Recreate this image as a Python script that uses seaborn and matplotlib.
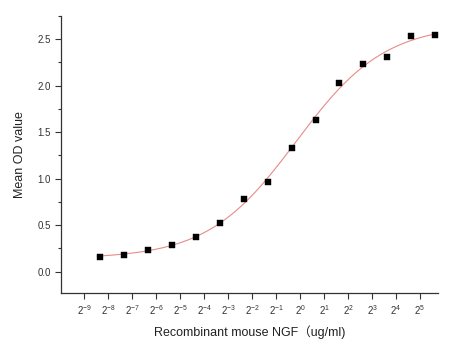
import numpy as np
import pandas as pd
import matplotlib
matplotlib.use("Agg")
import matplotlib.pyplot as plt
import seaborn as sns
from matplotlib.ticker import FixedLocator, MultipleLocator, NullLocator

# ---- data ----
concentration = [50 / 2 ** k for k in range(14, -1, -1)]  # ug/ml, two-fold dilutions
mean_od = [0.16, 0.18, 0.23, 0.28, 0.37, 0.52, 0.78, 0.96, 1.33, 1.63,
           2.03, 2.23, 2.31, 2.53, 2.54]
xtick_exponents = list(range(-9, 6))
xtick_labels = [r"$2^{%d}$" % e for e in xtick_exponents]
y_ticks = [0.0, 0.5, 1.0, 1.5, 2.0, 2.5]

# ---- 4-parameter logistic fit (Gauss-Newton with damping) ----
x = np.array(concentration)
y = np.array(mean_od)


def model(p, xx):
    a, d, c, b = p
    return d + (a - d) / (1 + (xx / c) ** b)


p = np.array([0.12, 2.65, 1.0, 1.0])
lam = 1e-3
for _ in range(500):
    r = y - model(p, x)
    J = np.zeros((len(x), 4))
    for i in range(4):
        dp = np.zeros(4)
        dp[i] = 1e-6 * max(1.0, abs(p[i]))
        J[:, i] = (model(p + dp, x) - model(p - dp, x)) / (2 * dp[i])
    A = J.T @ J
    step = np.linalg.solve(A + lam * np.diag(np.diag(A)), J.T @ r)
    pn = p + step
    if pn[2] > 0 and np.sum((y - model(pn, x)) ** 2) < np.sum(r ** 2):
        p = pn
        lam *= 0.5
    else:
        lam *= 4

xs = np.logspace(np.log2(x.min()) - 0.1, np.log2(x.max()), 300, base=2)
curve = pd.DataFrame({"conc": xs, "od": model(p, xs)})
pts = pd.DataFrame({"conc": x, "od": y})

# ---- plot ----
sns.set_style("ticks")
plt.rcParams["font.family"] = ["Liberation Sans", "Noto Sans CJK SC", "DejaVu Sans"]
plt.rcParams["mathtext.fontset"] = "custom"
plt.rcParams["mathtext.rm"] = "Liberation Sans"
plt.rcParams["mathtext.it"] = "Liberation Sans"

fig = plt.figure(figsize=(4.63, 3.45), dpi=100)
ax = fig.add_axes([0.132, 0.151, 0.814, 0.803])

sns.lineplot(data=curve, x="conc", y="od", ax=ax, color="#e88a8a", linewidth=0.8)
sns.scatterplot(data=pts, x="conc", y="od", ax=ax, marker="s", color="black",
                s=18, edgecolor="black", linewidth=0.3, zorder=3)

ax.set_xscale("log", base=2)
ax.set_xlim(2 ** -9.96, 2 ** 5.75)
ax.set_ylim(-0.23, 2.75)
ax.xaxis.set_major_locator(FixedLocator([2.0 ** e for e in xtick_exponents]))
ax.set_xticklabels(xtick_labels)
ax.xaxis.set_minor_locator(NullLocator())
ax.set_yticks(y_ticks)
ax.set_yticklabels(["%.1f" % v for v in y_ticks])
ax.yaxis.set_minor_locator(MultipleLocator(0.25))

ax.tick_params(axis="both", which="major", direction="out", length=4, width=0.8,
               labelsize=7, colors="#333333", labelcolor="#333333")
ax.tick_params(axis="y", which="minor", direction="out", length=2.5, width=0.8,
               colors="#333333")
for s in ["left", "bottom"]:
    ax.spines[s].set_color("#333333")
    ax.spines[s].set_linewidth(0.9)
sns.despine(ax=ax)

ax.set_xlabel("Recombinant mouse NGF（ug/ml)", fontsize=9, color="#222222", labelpad=6)
ax.set_ylabel("Mean OD value", fontsize=9, color="#222222", labelpad=8)

fig.savefig("out.png", dpi=100)
